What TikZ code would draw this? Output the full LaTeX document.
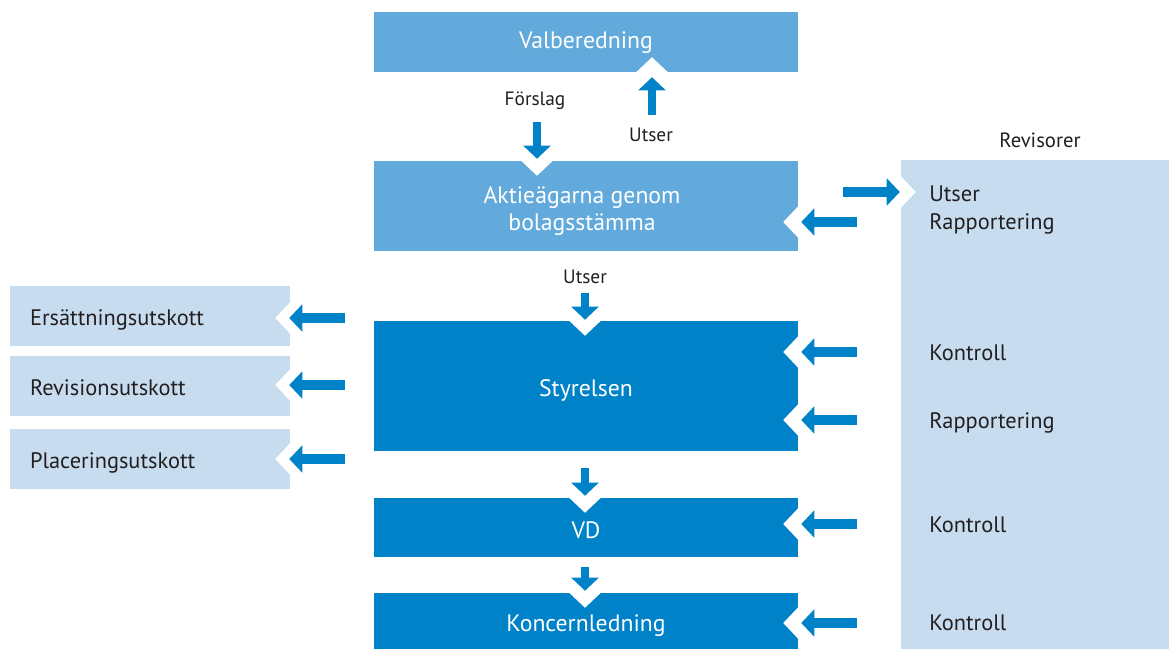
\documentclass[tikz,border=0pt]{standalone}
\usepackage{fontspec}
\setmainfont{PT Sans}
\usetikzlibrary{arrows.meta}
\definecolor{midblue}{HTML}{62A9DC}
\definecolor{deepblue}{HTML}{0082C8}
\definecolor{paleblue}{HTML}{C8DCF0}
\definecolor{ink}{HTML}{231F20}
% white V-shaped cut into a box edge: #1 edge point, #2 direction into the box
\newcommand\notchat[2]{\fill[white, shift={#1}, rotate=#2] (-2,-18) -- (15,0) -- (-2,18) -- cycle;}
\begin{document}
\begin{tikzpicture}[x=0.75pt, y=-0.75pt,
  bigtxt/.style={font=\fontsize{17.8}{20.25}\selectfont},
  midtxt/.style={font=\fontsize{16.8}{20}\selectfont},
  smalltxt/.style={font=\fontsize{14.5}{18}\selectfont},
  box/.style={bigtxt, rectangle, inner sep=0pt, minimum width=318pt, text=white, align=center,
              text height=16.2pt, text depth=0pt},
  cbox/.style={midtxt, rectangle, fill=paleblue, text=ink, inner xsep=15pt, inner ysep=0pt,
               text width=180pt, minimum height=45pt, align=left,
               text height=14pt, text depth=0pt},
  lbl/.style={midtxt, text=ink, inner sep=0pt, anchor=base west},
  clbl/.style={smalltxt, text=ink, inner sep=0pt, anchor=base},
  barrow/.style={draw=deepblue, line width=7pt,
                 -{Triangle[length=9.75pt, width=20.5pt, line width=0pt]}},
  varrow/.style={barrow, line width=6.5pt}
]
\useasboundingbox (0,0) rectangle (1169,649);

% main chain
\node[box, fill=midblue, minimum height=45pt, text height=9.5pt] (val) at (586,42) {Valberedning};
\node[box, fill=midblue, minimum height=67.5pt] (akt) at (586,206) {};
\node[bigtxt, text=white, align=center, inner sep=0pt] (akttxt) at (582,211) {Aktieägarna genom\\bolagsstämma};
\node[box, fill=deepblue, minimum height=97.5pt] (sty) at (586,386) {Styrelsen};
\node[box, fill=deepblue, minimum height=44.25pt] (vd) at (586,527.5) {VD};
\node[box, fill=deepblue, minimum height=42pt] (kon) at (586,621) {Koncernledning};

% committees
\node[cbox] (ers) at (150,316) {Ersättningsutskott};
\node[cbox] (rvu) at (150,386) {Revisionsutskott};
\node[cbox] (pla) at (150,459) {Placeringsutskott};

% auditors
\node[fill=paleblue, inner sep=0pt, minimum width=201pt, minimum height=366.75pt] (rev) at (1035,404.5) {};

% arrow start points
\coordinate (fs) at (537,122);
\coordinate (us) at (652,115);
\coordinate (ru) at (843,192);
\coordinate (rr) at (857,222);
\coordinate (ud) at (585,293);
\coordinate (c1) at (345,318);
\coordinate (c2) at (345,385);
\coordinate (c3) at (345,459);
\coordinate (k1) at (857,352);
\coordinate (k2) at (857,420);
\coordinate (sv) at (585,468);
\coordinate (vk) at (585,567);
\coordinate (k3) at (857,524);
\coordinate (k4) at (857,623);

% cuts where arrows enter boxes
\notchat{(fs |- akt.north)}{-90}
\notchat{(us |- val.south)}{90}
\notchat{(ru -| rev.west)}{0}
\notchat{(rr -| akt.east)}{180}
\notchat{(ud |- sty.north)}{-90}
\notchat{(c1 -| ers.east)}{180}
\notchat{(c2 -| rvu.east)}{180}
\notchat{(c3 -| pla.east)}{180}
\notchat{(k1 -| sty.east)}{180}
\notchat{(k2 -| sty.east)}{180}
\notchat{(sv |- vd.north)}{-90}
\notchat{(vk |- kon.north)}{-90}
\notchat{(k3 -| vd.east)}{180}
\notchat{(k4 -| kon.east)}{180}

% arrows
\draw[varrow] (fs) -- ([yshift=1.5pt]fs |- akt.north);
\draw[varrow] (us) -- ([yshift=-3.75pt]us |- val.south);
\draw[barrow] (ru) -- ([xshift=-0.75pt]ru -| rev.west);
\draw[barrow] (rr) -- ([xshift=2.25pt]rr -| akt.east);
\draw[varrow] (ud) -- ([yshift=0.75pt]ud |- sty.north);
\draw[barrow] (c1) -- ([xshift=-0.75pt]c1 -| ers.east);
\draw[barrow] (c2) -- ([xshift=-0.75pt]c2 -| rvu.east);
\draw[barrow] (c3) -- ([xshift=-0.75pt]c3 -| pla.east);
\draw[barrow] (k1) -- ([xshift=2.25pt]k1 -| sty.east);
\draw[barrow] (k2) -- ([xshift=2.25pt]k2 -| sty.east);
\draw[varrow] (sv) -- ([yshift=1.5pt]sv |- vd.north);
\draw[varrow] (vk) -- ([yshift=1.5pt]vk |- kon.north);
\draw[barrow] (k3) -- ([xshift=2.25pt]k3 -| vd.east);
\draw[barrow] (k4) -- ([xshift=2.25pt]k4 -| kon.east);

% arrow labels
\node[clbl] (lf) at (535,106) {Förslag};
\node[clbl] (lu) at (651,142) {Utser};
\node[clbl] (lu2) at (585,283) {Utser};
\node[clbl, font=\fontsize{15.5}{18}\selectfont] (lrev) at (1040,147) {Revisorer};
\node[lbl] (r1) at (929,201) {Utser};
\node[lbl] (r2) at (929,229) {Rapportering};
\node[lbl] (r3) at (929,360) {Kontroll};
\node[lbl] (r4) at (929,428) {Rapportering};
\node[lbl] (r5) at (929,532) {Kontroll};
\node[lbl] (r6) at (929,630) {Kontroll};
\end{tikzpicture}
\end{document}
